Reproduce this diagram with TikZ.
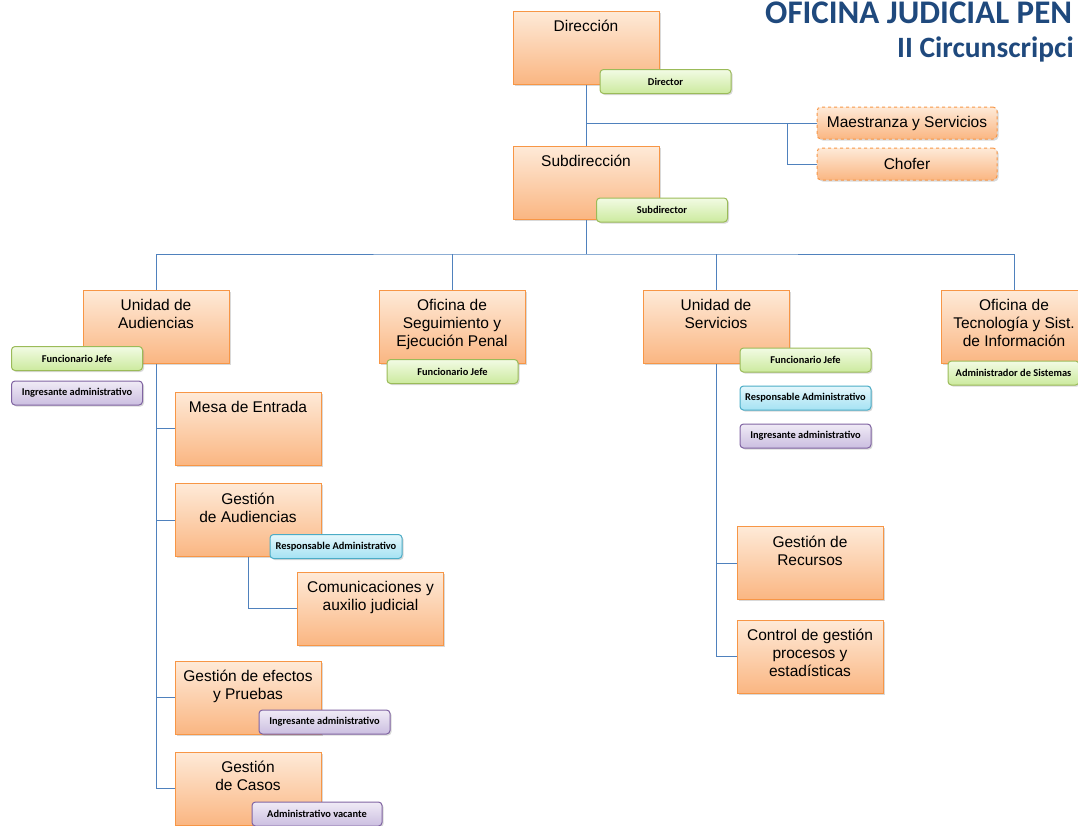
\documentclass[tikz,border=0pt]{standalone}
\usepackage{fontspec}
\setmainfont{Liberation Sans}
\newfontfamily\lblfont{Carlito}
\newfontfamily\ttlfont{Carlito}
\usetikzlibrary{shadows,backgrounds}
\definecolor{boxborder}{RGB}{247,150,70}
\definecolor{boxtop}{RGB}{254,234,216}
\definecolor{boxbot}{RGB}{250,182,130}
\definecolor{grnborder}{RGB}{155,187,89}
\definecolor{grntop}{RGB}{242,251,228}
\definecolor{grnbot}{RGB}{204,234,158}
\definecolor{cynborder}{RGB}{75,172,198}
\definecolor{cyntop}{RGB}{228,247,252}
\definecolor{cynbot}{RGB}{165,226,243}
\definecolor{purborder}{RGB}{128,100,162}
\definecolor{purtop}{RGB}{240,235,246}
\definecolor{purbot}{RGB}{203,190,224}
\definecolor{linkblue}{RGB}{79,129,189}
\definecolor{titleblue}{RGB}{31,73,125}
\newcommand{\bt}[1]{\parbox[c][73pt][t]{146pt}{\centering\vspace*{8pt}\strut #1}}
\tikzset{
  shad/.style={drop shadow={opacity=0.3, shadow xshift=1.5pt, shadow yshift=-1.5pt}},
  ubox/.style={shad, draw=boxborder, line width=1pt, top color=boxtop, bottom color=boxbot,
    inner sep=0pt, font=\fontsize{15.5}{18}\selectfont},
  dbox/.style={shad, draw=boxborder, line width=1pt, dashed, rounded corners=4pt,
    top color=boxtop, bottom color=boxbot, minimum width=180pt, minimum height=32pt,
    inner sep=0pt, font=\fontsize{15.5}{18}\selectfont},
  lbl/.style={shad, line width=1pt, rounded corners=3.5pt, minimum width=131pt,
    minimum height=24pt, inner sep=0pt, font=\lblfont\bfseries\fontsize{10.4}{12}\selectfont},
  glbl/.style={lbl, draw=grnborder, top color=grntop, bottom color=grnbot},
  clbl/.style={lbl, draw=cynborder, top color=cyntop, bottom color=cynbot},
  plbl/.style={lbl, draw=purborder, top color=purtop, bottom color=purbot},
  link/.style={draw=linkblue, line width=1pt},
  ttl/.style={text=titleblue, inner sep=0pt}
}
\begin{document}
\begin{tikzpicture}[x=1pt,y=-1pt]
\useasboundingbox (0,0) rectangle (1078,825);
% titles
\node[ttl, anchor=base west, font=\ttlfont\bfseries\fontsize{33}{34}\selectfont] (t1) at (765,23.5) {OFICINA JUDICIAL PEN};
\node[ttl, anchor=base west, font=\ttlfont\bfseries\fontsize{29.5}{30}\selectfont] (t2) at (897,57.5) {II Circunscripci};
% top
\node[ubox] (dir) at (586,47.5) {\bt{Dirección}};
\node[glbl] (dirl) at (665.5,81.5) {Director};
\node[dbox] (maes) at (907,123) {Maestranza y Servicios};
\node[dbox] (chof) at (907,164) {Chofer};
\node[ubox] (sub) at (586,182.5) {\bt{Subdirección}};
\node[glbl] (subl) at (662,210) {Subdirector};
% units
\node[ubox] (ua) at (156,326.5) {\bt{Unidad de\\Audiencias}};
\node[glbl] (ual1) at (77,358.5) {Funcionario Jefe};
\node[plbl] (ual2) at (77,393) {Ingresante administrativo};
\node[ubox] (so) at (452,326.5) {\bt{Oficina de\\Seguimiento y\\Ejecución Penal}};
\node[glbl] (sol) at (452.5,371.5) {Funcionario Jefe};
\node[ubox] (us) at (716,326.5) {\bt{Unidad de\\Servicios}};
\node[glbl] (usl1) at (805.5,360) {Funcionario Jefe};
\node[clbl] (usl2) at (805.5,398) {Responsable Administrativo};
\node[plbl] (usl3) at (805.5,436) {Ingresante administrativo};
\node[ubox] (ots) at (1014,326.5) {\bt{Oficina de\\Tecnología y Sist.\\de Información}};
\node[glbl] (otsl) at (1013.5,373) {Administrador de Sistemas};
% audiencias children
\node[ubox] (me) at (248,428.5) {\bt{Mesa de Entrada}};
\node[ubox] (ga) at (248,520) {\bt{Gestión\\de Audiencias}};
\node[clbl, minimum width=132pt] (gal) at (336,546.5) {Responsable Administrativo};
\node[ubox] (com) at (370.5,608.5) {\bt{Comunicaciones y\\auxilio judicial}};
\node[ubox] (ge) at (248,697.5) {\bt{Gestión de efectos\\y Pruebas}};
\node[plbl] (gel) at (324.5,722) {Ingresante administrativo};
\node[ubox] (gc) at (248,788.5) {\bt{Gestión\\de Casos}};
\node[plbl, minimum width=130pt] (gcl) at (317,814) {Administrativo vacante};
% servicios children
\node[ubox] (gr) at (810,563) {\bt{Gestión de\\Recursos}};
\node[ubox] (cg) at (810,656.5) {\bt{Control de gestión\\procesos y\\estadísticas}};
% connectors
\begin{pgfonlayer}{background}
\coordinate (jm) at (787,123);
\coordinate (bus) at (586,254);
\draw[link] (dir.south) -- (sub.north);
\draw[link] (dir.south |- maes.west) -- (maes.west);
\draw[link] (jm) |- (chof.west);
\draw[link] (sub.south) -- (bus);
\draw[link] (ua.north) |- (bus) -| (ots.north);
\draw[link] (so.north) -- (so.north |- bus);
\draw[link] (us.north) -- (us.north |- bus);
\draw[link] (ua.south) |- (gc.west);
\draw[link] (ua.south |- me.west) -- (me.west);
\draw[link] (ua.south |- ga.west) -- (ga.west);
\draw[link] (ua.south |- ge.west) -- (ge.west);
\draw[link] (ga.south) |- (com.west);
\draw[link] (us.south) |- (cg.west);
\draw[link] (us.south |- gr.west) -- (gr.west);
\end{pgfonlayer}
\end{tikzpicture}
\end{document}
